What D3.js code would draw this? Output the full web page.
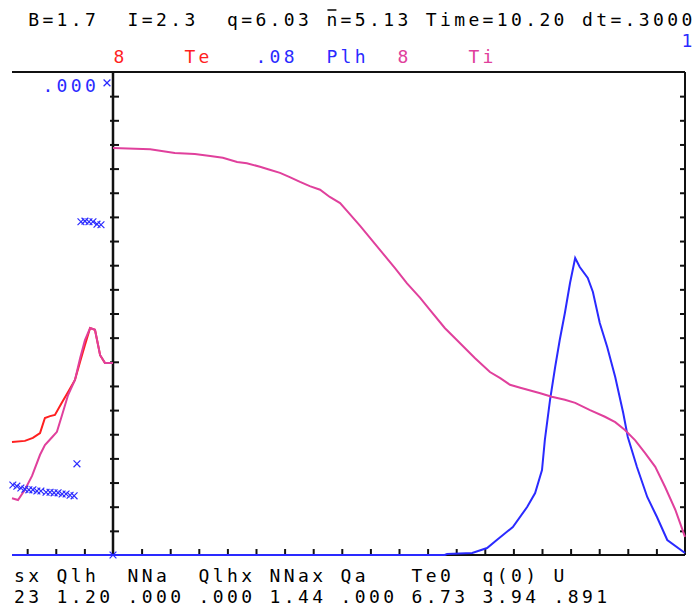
<!doctype html>
<html>
  <head>
    <meta charset="utf-8">
    <title>Te / Ti / Plh profiles</title>
    <script src="https://d3js.org/d3.v7.min.js"></script>
    <style>
      body { margin: 0; background: #fff; }
      text { font-family: "DejaVu Sans Mono", monospace; font-size: 18px; }
    </style>
  </head>
  <body>
    <script>
      // header / footer strings (character grid)
      const headerLine = ' B=1.7  I=2.3  q=6.03 n=5.13 Time=10.20 dt=.3000';
      const footerNames = 'sx Qlh  NNa  Qlhx NNax Qa   Te0  q(0) U';
      const footerValues = '23 1.20 .000 .000 1.44 .000 6.73 3.94 .891';

      // main panel: radius (0..1) and profiles
      const rTi = [0, .065, .108, .143, .170, .192, .217, .234, .257, .274, .292, .309, .327, .344,
        .362, .379, .397, .411, .432, .467, .493, .514, .537, .554, .580, .598, .633, .659, .677,
        .694, .712, .747, .767, .790, .808, .834, .860, .878, .895, .913, .930, .948, .965, .983, 1];
      const ti = [6.74, 6.72, 6.66, 6.64, 6.61, 6.58, 6.51, 6.49, 6.43, 6.38, 6.33, 6.26, 6.18, 6.11,
        6.05, 5.93, 5.83, 5.68, 5.45, 5.05, 4.75, 4.50, 4.26, 4.06, 3.76, 3.59, 3.26, 3.03, 2.93,
        2.82, 2.77, 2.68, 2.62, 2.57, 2.52, 2.40, 2.29, 2.20, 2.07, 1.90, 1.69, 1.46, 1.13, 0.75, 0.30];

      const rPlh = [0, .580, .584, .628, .654, .671, .699, .724, .738, .750, .755, .764, .773, .781,
        .790, .799, .808, .816, .830, .839, .851, .864, .878, .892, .900, .916, .934, .951, .969, 1];
      const plh = [0, 0, .00017, .00033, .00116, .00248, .00464, .00795, .01027, .01408, .01905,
        .02567, .03114, .03561, .04008, .04505, .04919, .04770, .04588, .04356, .03843, .03445,
        .02948, .02352, .01954, .01458, .00961, .00629, .00248, .00033];

      // left panel: history (time units before now)
      const tHist = [-3.53, -3.08, -2.80, -2.55, -2.38, -2.20, -2.03, -1.78, -1.57, -1.33, -1.15,
        -0.98, -0.80, -0.63, -0.45, -0.28, 0];
      const teHist = [1.87, 1.89, 1.94, 2.02, 2.27, 2.30, 2.32, 2.53, 2.70, 2.90, 3.20, 3.48, 3.76,
        3.73, 3.31, 3.18, 3.18];
      const tiHistT = [-3.53, -3.32, -3.08, -2.83, -2.55, -2.38, -2.13, -1.96, -1.78, -1.57, -1.33,
        -1.15, -0.98, -0.80, -0.63, -0.45, -0.28, 0];
      const tiHist = [0.94, 0.91, 1.08, 1.31, 1.66, 1.82, 1.95, 2.04, 2.32, 2.65, 2.90, 3.26, 3.56,
        3.76, 3.73, 3.31, 3.18, 3.18];
      const qlhHistT = [-3.53, 0];
      const qlhHist = [0, 0];
      const plhMarkT = [-3.50, -3.36, -3.22, -3.08, -2.94, -2.80, -2.66, -2.52, -2.34, -2.20, -2.06,
        -1.92, -1.78, -1.64, -1.50, -1.36, -1.26, -1.12, -0.98, -0.84, -0.70, -0.56, -0.42, -0.21, 0];
      const plhMark = [.0116, .0114, .0111, .0109, .0108, .0108, .0106, .0106, .0104, .0104, .0103,
        .0103, .0101, .0101, .0099, .0098, .0151, .0552, .0553, .0552, .0552, .0548, .0547, .0782, 0];

      const red = '#ff1f1f', blue = '#2a2aff', magenta = '#e0409c';

      const svg = d3.select('body').append('svg')
          .attr('width', 700)
          .attr('height', 610);
      svg.append('rect').attr('width', 700).attr('height', 610).attr('fill', '#fff');

      const box = { left: 12, split: 113, right: 685, top: 72, bottom: 555 };

      const xMain = d3.scaleLinear().domain([0, 1]).range([box.split, box.right]);
      const xLeft = d3.scaleLinear().domain([-3.53, 0]).range([box.left, box.split]);
      const yTe = d3.scaleLinear().domain([0, 8]).range([box.bottom, box.top]);
      const yPlh = d3.scaleLinear().domain([0, 0.08]).range([box.bottom, box.top]);

      // frame
      const frame = svg.append('g').attr('stroke', '#111').attr('stroke-width', 2);
      frame.append('line').attr('x1', box.left).attr('x2', box.right)
          .attr('y1', box.top).attr('y2', box.top);
      frame.append('line').attr('x1', box.right).attr('x2', box.right)
          .attr('y1', box.top).attr('y2', box.bottom);
      frame.append('line').attr('x1', box.left).attr('x2', box.right)
          .attr('y1', box.bottom).attr('y2', box.bottom);
      frame.append('line').attr('x1', box.split).attr('x2', box.split)
          .attr('y1', box.top).attr('y2', box.bottom).attr('stroke-width', 2.5);

      const yTicks = d3.range(1, 20).map(i => i * 0.4);
      const styleAxis = g => {
        g.select('.domain').remove();
        g.selectAll('.tick line').attr('stroke', '#111').attr('stroke-width', 2);
      };

      svg.append('g')
          .attr('transform', `translate(${box.split - 3},0)`)
          .call(d3.axisRight(yTe).tickValues(yTicks).tickSize(9).tickFormat(''))
          .call(styleAxis);
      svg.append('g')
          .attr('transform', `translate(${box.right},0)`)
          .call(d3.axisLeft(yTe).tickValues(yTicks).tickSize(5).tickFormat(''))
          .call(styleAxis);
      svg.append('g')
          .attr('transform', `translate(0,${box.bottom})`)
          .call(d3.axisTop(xMain).tickValues(d3.range(1, 20).map(i => i * 0.05)).tickSize(6).tickFormat(''))
          .call(styleAxis);
      svg.append('g')
          .attr('transform', `translate(0,${box.bottom})`)
          .call(d3.axisTop(xLeft).tickValues([-3, -2, -1]).tickSize(6).tickFormat(''))
          .call(styleAxis);

      // curves
      const drawLine = (xs, ys, xScale, yScale, color) => {
        svg.append('path')
            .datum(xs.map((x, i) => [x, ys[i]]))
            .attr('fill', 'none')
            .attr('stroke', color)
            .attr('stroke-width', 2)
            .attr('d', d3.line().x(d => xScale(d[0])).y(d => yScale(d[1])));
      };

      drawLine(qlhHistT, qlhHist, xLeft, yPlh, blue);
      drawLine(tHist, teHist, xLeft, yTe, red);
      drawLine(tiHistT, tiHist, xLeft, yTe, magenta);
      drawLine(rPlh, plh, xMain, yPlh, blue);
      drawLine(rTi, ti, xMain, yTe, magenta);

      svg.append('g').selectAll('path')
        .data(plhMarkT.map((t, i) => [t, plhMark[i]]))
        .enter().append('path')
          .attr('transform', d => `translate(${xLeft(d[0])},${yPlh(d[1])})`)
          .attr('d', d3.symbol(d3.symbolTimes, 32))
          .attr('fill', 'none')
          .attr('stroke', blue)
          .attr('stroke-width', 1.2);

      // text on a fixed character grid
      const cw = 14.2, x0 = 14;
      const gridText = (str, col, baseline, color) => {
        const g = svg.append('g').attr('fill', color);
        str.split('').forEach((ch, i) => {
          if (ch === ' ') return;
          g.append('text')
              .attr('x', x0 + (col + i) * cw)
              .attr('y', baseline)
              .text(ch);
        });
      };

      gridText(headerLine, 0, 26, '#000');
      // bar over n (mean density)
      const nCol = headerLine.indexOf('n=');
      svg.append('line')
          .attr('x1', x0 + nCol * cw + 1).attr('x2', x0 + nCol * cw + 10)
          .attr('y1', 10).attr('y2', 10)
          .attr('stroke', '#000').attr('stroke-width', 1.5);

      gridText('8', 7, 63, red);
      gridText('Te', 12, 63, red);
      gridText('.08', 17, 63, blue);
      gridText('Plh', 22, 63, blue);
      gridText('8', 27, 63, magenta);
      gridText('Ti', 32, 63, magenta);
      gridText('1', 47, 47, blue);
      gridText('.000', 2, 92, blue);

      gridText(footerNames, 0, 582, '#000');
      gridText(footerValues, 0, 603, '#000');
    </script>
  </body>
</html>
